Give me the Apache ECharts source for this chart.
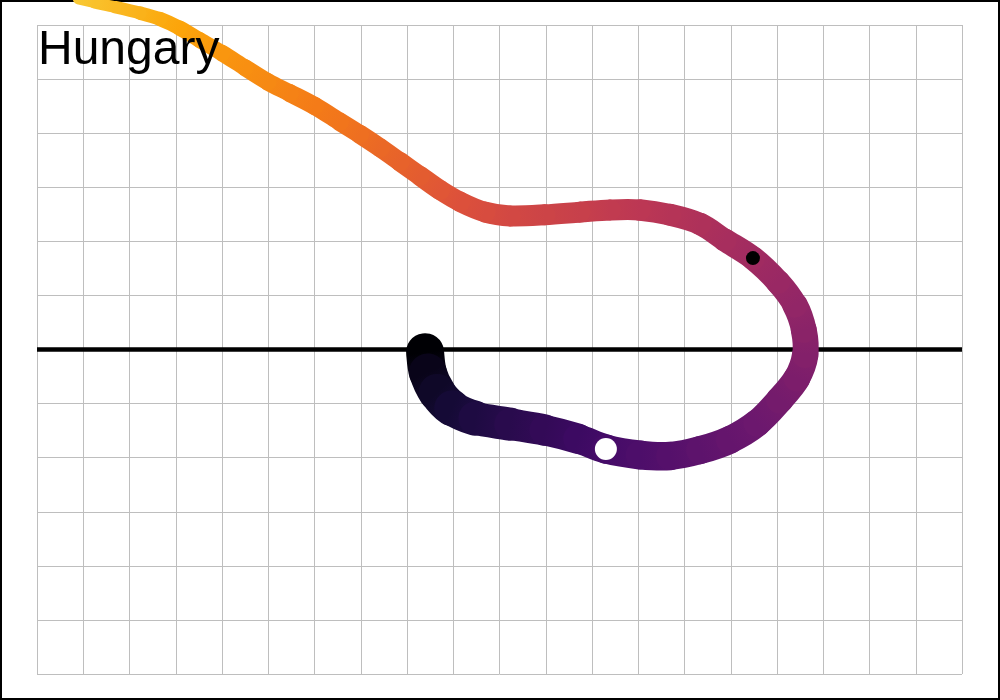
<!DOCTYPE html>
<html><head><meta charset="utf-8">
<script src="https://cdn.jsdelivr.net/npm/echarts@6/dist/echarts.min.js"></script>
<style>html,body{margin:0;padding:0;background:#fff}#c{width:1000px;height:700px}</style>
</head><body><div id="c"></div>
<script>
const countryLabel = 'Hungary';
const xRange = [0, 20];
const yRange = [-6, 6];
const zeroLevel = 0;

// path from the latest (thick, dark) point back to the earliest (thin, yellow)
const pathX = [8.39, 8.45, 8.65, 8.97, 9.47, 10.23, 10.98, 11.70, 12.30, 13.04, 13.69, 14.34, 14.98, 15.57, 16.06, 16.43, 16.61, 16.58, 16.39, 16.02, 15.48, 14.88, 14.34, 13.69, 13.04, 12.39, 11.74, 10.98, 10.23, 9.69, 9.15, 8.71, 8.28, 7.85, 7.42, 6.98, 6.55, 6.01, 5.47, 4.99, 4.50, 4.00, 3.52, 3.09, 2.66, 2.23, 1.69, 1.25, 0.89];
const pathY = [-0.05, -0.42, -0.79, -1.08, -1.27, -1.38, -1.49, -1.65, -1.84, -1.95, -1.97, -1.86, -1.67, -1.36, -0.93, -0.53, -0.10, 0.36, 0.82, 1.25, 1.69, 2.02, 2.32, 2.49, 2.58, 2.58, 2.54, 2.49, 2.47, 2.54, 2.73, 2.95, 3.21, 3.47, 3.73, 3.98, 4.21, 4.50, 4.74, 4.95, 5.21, 5.48, 5.72, 5.94, 6.11, 6.22, 6.33, 6.41, 6.48];
const pathWidth = [38, 38, 37, 36, 34, 32, 31, 30, 29, 29, 28, 28, 28, 27, 27, 27, 26, 26, 25, 24, 24, 23, 22, 22, 21, 21, 21, 21, 21, 21, 20, 20, 20, 19, 19, 19, 18, 18, 18, 17, 17, 16, 16, 15, 14, 13, 12, 11, 10];

const blackDot = [[15.48, 1.69]];
const whiteDot = [[12.30, -1.84]];

const inferno = ['#000004','#160b39','#420a68','#6a176e','#932667','#bc3754','#dd513a','#f37819','#fca50a','#f6d746','#fcffa4'];
function hex(h){return [parseInt(h.slice(1,3),16),parseInt(h.slice(3,5),16),parseInt(h.slice(5,7),16)];}
function infernoAt(t){
  t = Math.max(0, Math.min(1, t));
  const f = t * (inferno.length - 1);
  const k = Math.min(Math.floor(f), inferno.length - 2);
  const u = f - k;
  const a = hex(inferno[k]), b = hex(inferno[k+1]);
  return 'rgb(' + [0,1,2].map(j => Math.round(a[j] + (b[j]-a[j])*u)).join(',') + ')';
}
const nPts = pathX.length;
function shadeAt(i){ const s = i/(nPts-1); return infernoAt(0.87*Math.pow(s,0.8)); }

// each segment: previous, start, end, next point (for a smooth curve), width, index
const segments = [];
for (let i = 0; i < nPts - 1; i++) {
  const a = Math.max(i - 1, 0), d = Math.min(i + 2, nPts - 1);
  segments.push([pathX[a], pathY[a], pathX[i], pathY[i], pathX[i+1], pathY[i+1], pathX[d], pathY[d],
                 (pathWidth[i] + pathWidth[i+1]) / 2, i]);
}

const chart = echarts.init(document.getElementById('c'), null, {renderer: 'canvas'});
const axisCommon = {
  type: 'value', interval: 1,
  axisLine: {show: false}, axisTick: {show: false}, axisLabel: {show: false},
  splitLine: {show: true, lineStyle: {color: '#bebebe', width: 1}}
};
chart.setOption({
  animation: false,
  backgroundColor: '#ffffff',
  grid: {left: 37, right: 38, top: 25, bottom: 26},
  xAxis: Object.assign({}, axisCommon, {min: xRange[0], max: xRange[1]}),
  yAxis: Object.assign({}, axisCommon, {min: yRange[0], max: yRange[1]}),
  series: [
    {type: 'line', data: [[xRange[0], zeroLevel], [xRange[1], zeroLevel]], symbol: 'none', silent: true,
     lineStyle: {color: '#000', width: 4.5}, z: 2},
    {type: 'custom', data: segments, z: 3, silent: true, clip: false,
     renderItem: function (params, api) {
       const pa = api.coord([api.value(0), api.value(1)]);
       const p0 = api.coord([api.value(2), api.value(3)]);
       const p1 = api.coord([api.value(4), api.value(5)]);
       const pd = api.coord([api.value(6), api.value(7)]);
       const i = api.value(9);
       const c1 = [p0[0] + (p1[0] - pa[0]) / 6, p0[1] + (p1[1] - pa[1]) / 6];
       const c2 = [p1[0] - (pd[0] - p0[0]) / 6, p1[1] - (pd[1] - p0[1]) / 6];
       return {
         type: 'bezierCurve',
         shape: {x1: p0[0], y1: p0[1], x2: p1[0], y2: p1[1], cpx1: c1[0], cpy1: c1[1], cpx2: c2[0], cpy2: c2[1]},
         style: {
           stroke: new echarts.graphic.LinearGradient(p0[0], p0[1], p1[0], p1[1],
             [{offset: 0, color: shadeAt(i)}, {offset: 1, color: shadeAt(i + 1)}], true),
           lineWidth: api.value(8), lineCap: 'round', fill: null
         }
       };
     }},
    {type: 'scatter', data: blackDot, symbolSize: 14, itemStyle: {color: '#000', opacity: 1}, z: 5, silent: true},
    {type: 'scatter', data: whiteDot, symbolSize: 22, itemStyle: {color: '#fff', opacity: 1}, z: 5, silent: true}
  ],
  graphic: [
    {type: 'rect', z: 1, shape: {x: 1, y: 1, width: 998, height: 698},
     style: {fill: null, stroke: '#000', lineWidth: 2}},
    {type: 'text', left: 38, top: 27, z: 50,
     style: {text: countryLabel, font: '48px "Liberation Sans", Arial, sans-serif', fill: '#000'}}
  ]
});
</script></body></html>
